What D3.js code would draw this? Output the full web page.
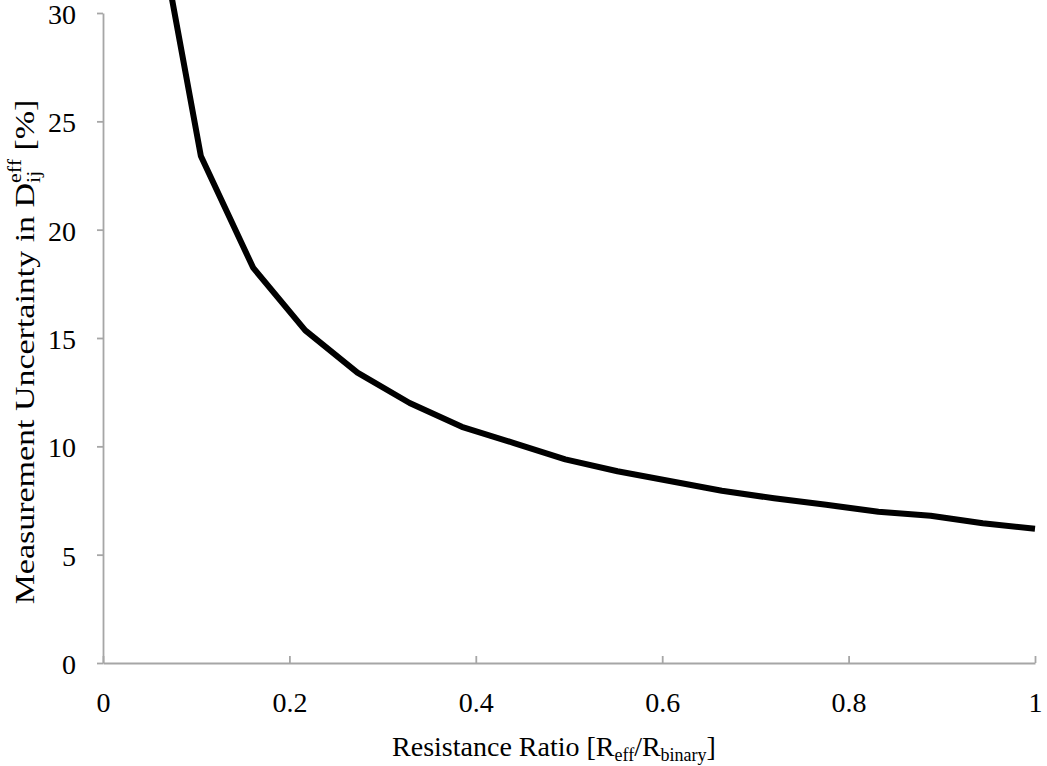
<!DOCTYPE html>
<html>
<head>
<meta charset="utf-8">
<script src="https://cdn.jsdelivr.net/npm/d3@7"></script>
<style>
  html, body { margin: 0; padding: 0; background: #fff; }
  svg { display: block; }
  text { font-family: "Liberation Serif", "DejaVu Serif", serif; fill: #000; }
</style>
</head>
<body>
<div id="chart"></div>
<script>
// Resistance ratio R_eff / R_binary
const ratio = [0.049, 0.105, 0.161, 0.217, 0.273, 0.329, 0.385, 0.441, 0.496,
               0.552, 0.608, 0.664, 0.720, 0.776, 0.832, 0.888, 0.944, 1.0];
// Measurement uncertainty in D_ij^eff, percent
const uncertainty = [36.5, 23.4, 18.25, 15.35, 13.4, 12.0, 10.9, 10.15, 9.4,
                     8.85, 8.4, 7.95, 7.6, 7.3, 6.98, 6.8, 6.45, 6.2];
const xTicks = [0, 0.2, 0.4, 0.6, 0.8, 1];
const yTicks = [0, 5, 10, 15, 20, 25, 30];

const W = 1047, H = 766;
const plot = { left: 103, right: 1035, top: 13, bottom: 663 };
const FONT = 28;

const svg = d3.select("#chart").append("svg")
  .attr("width", W).attr("height", H);

const x = d3.scaleLinear().domain([0, 1]).range([plot.left, plot.right]);
const y = d3.scaleLinear().domain([0, 30]).range([plot.bottom, plot.top]);

const axisColor = "#a6a6a6";
const fmtX = d => d === 0 || d === 1 ? String(d) : d3.format(".1f")(d);

// X axis: ticks pointing up into the plot
const gx = svg.append("g")
  .attr("transform", `translate(0,${plot.bottom})`)
  .call(d3.axisBottom(x).tickValues(xTicks).tickFormat(fmtX)
        .tickSizeInner(-7).tickSizeOuter(0).tickPadding(29));
gx.select(".domain").attr("stroke", axisColor).attr("stroke-width", 1.8);
gx.selectAll(".tick line").attr("stroke", axisColor).attr("stroke-width", 1.8);
gx.selectAll(".tick text").attr("font-size", FONT)
  .style("font-family", '"Liberation Serif", serif').attr("fill", "#000");

// Y axis: ticks pointing outward
const gy = svg.append("g")
  .attr("transform", `translate(${plot.left},0)`)
  .call(d3.axisLeft(y).tickValues(yTicks).tickFormat(d3.format("d"))
        .tickSizeInner(6).tickSizeOuter(0).tickPadding(21));
gy.select(".domain").attr("stroke", axisColor).attr("stroke-width", 1.8);
gy.selectAll(".tick line").attr("stroke", axisColor).attr("stroke-width", 1.8);
gy.selectAll(".tick text").attr("font-size", FONT).attr("dy", "0.38em")
  .style("font-family", '"Liberation Serif", serif').attr("fill", "#000");

// Uncertainty curve
const pts = ratio.map((r, i) => [r, uncertainty[i]]);
svg.append("path")
  .datum(pts)
  .attr("fill", "none")
  .attr("stroke", "#000")
  .attr("stroke-width", 6)
  .attr("stroke-linejoin", "round")
  .attr("d", d3.line().x(d => x(d[0])).y(d => y(d[1])));

// X axis title
const xt = svg.append("text")
  .attr("x", 554)
  .attr("y", 756)
  .attr("text-anchor", "middle")
  .attr("font-size", FONT);
xt.append("tspan").text("Resistance Ratio [R");
xt.append("tspan").attr("font-size", 18).attr("dy", 5).text("eff");
xt.append("tspan").attr("dy", -5).text("/R");
xt.append("tspan").attr("font-size", 18).attr("dy", 5).text("binary");
xt.append("tspan").attr("dy", -5).text("]");

// Y axis title with stacked sub/superscript, stretched along its run
const ytG = svg.append("g")
  .attr("transform", `translate(34,352) rotate(-90)`);
const yt = ytG.append("text")
  .attr("text-anchor", "middle")
  .attr("font-size", FONT);
yt.append("tspan").text("Measurement Uncertainty in D");
yt.append("tspan").attr("font-size", 18).attr("dy", 6).text("ij");
yt.append("tspan").attr("font-size", 18).attr("dx", -10).attr("dy", -19).text("eff");
yt.append("tspan").attr("dy", 13).text(" [%]");
const ytLen = yt.node().getBBox().width;
yt.attr("transform", `scale(${505 / ytLen},1)`);
</script>
</body>
</html>
